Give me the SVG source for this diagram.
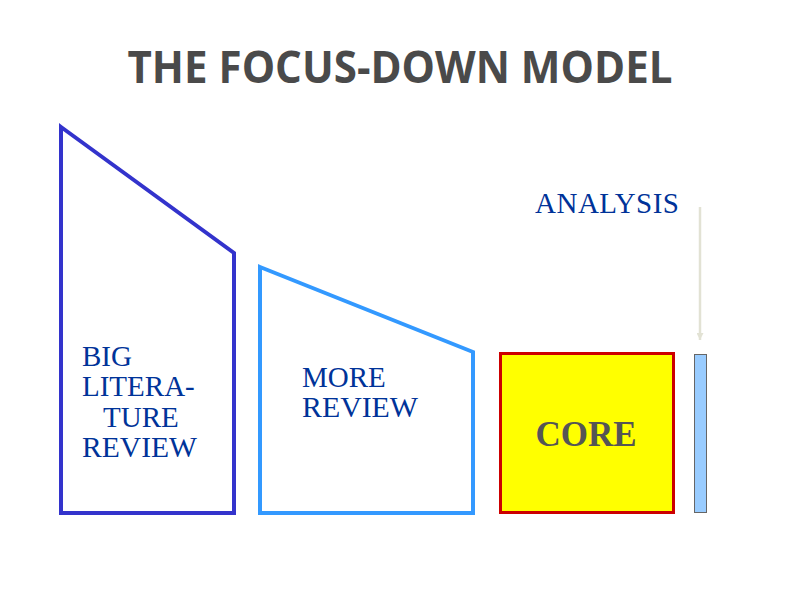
<svg xmlns="http://www.w3.org/2000/svg" width="800" height="600" viewBox="0 0 800 600">
<defs>
<style>
.lbl{font-family:"Liberation Serif","Times New Roman",serif;font-size:29px;fill:#003399}
.title{font-family:"Open Sans","Liberation Sans",sans-serif;font-weight:bold;font-size:45px;fill:#4a4a4a}
</style>
<marker id="ah" viewBox="0 0 10 10" refX="10" refY="5" markerWidth="10" markerHeight="7" orient="auto" markerUnits="userSpaceOnUse">
<path d="M0,0 L10,5 L0,10 Z" fill="#e2e2d4"/>
</marker>
</defs>
<rect width="800" height="600" fill="#ffffff"/>
<text class="title" x="400" y="83" text-anchor="middle" textLength="545" lengthAdjust="spacingAndGlyphs">THE FOCUS-DOWN MODEL</text>
<g id="big-review">
<polygon points="61,127 234,253 234,513 61,513" fill="none" stroke="#3333cc" stroke-width="4" stroke-linejoin="miter"/>
<text class="lbl" x="82" y="366">BIG</text>
<text class="lbl" x="82" y="396">LITERA-</text>
<text class="lbl" x="103" y="427">TURE</text>
<text class="lbl" x="82" y="457" textLength="115" lengthAdjust="spacingAndGlyphs">REVIEW</text>
</g>
<g id="more-review">
<polygon points="260,267 473,352 473,513 260,513" fill="none" stroke="#3399ff" stroke-width="4"/>
<text class="lbl" x="302" y="387">MORE</text>
<text class="lbl" x="302" y="417" textLength="116" lengthAdjust="spacingAndGlyphs">REVIEW</text>
</g>
<g id="core">
<rect x="500.5" y="353.5" width="173" height="159" fill="#ffff00" stroke="#cc0000" stroke-width="3"/>
<text x="586" y="446" text-anchor="middle" font-family="'Liberation Serif','Times New Roman',serif" font-weight="bold" font-size="35" fill="#555555">CORE</text>
</g>
<g id="analysis">
<rect x="694.5" y="354.5" width="12" height="158" fill="#99ccff" stroke="#666666" stroke-width="1"/>
<text class="lbl" x="535" y="213" font-size="28" textLength="144" lengthAdjust="spacing">ANALYSIS</text>
</g>
<g id="connectors">
<line x1="700" y1="207" x2="700" y2="340" stroke="#e2e2d4" stroke-width="2.5" marker-end="url(#ah)"/>
</g>
</svg>
